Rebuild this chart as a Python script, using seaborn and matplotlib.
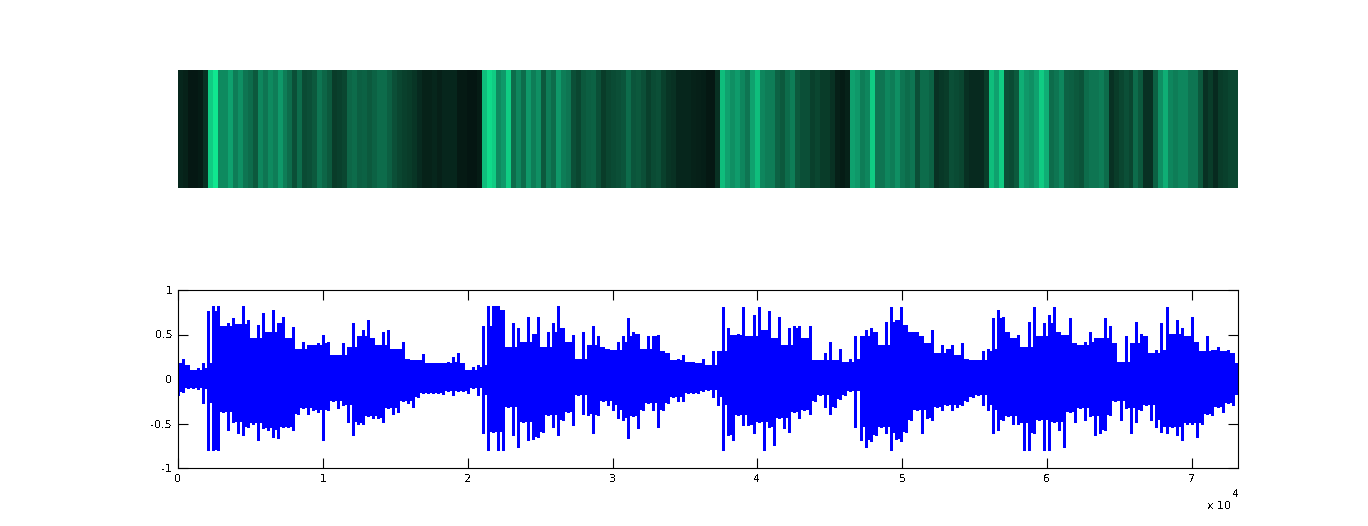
import numpy as np
import matplotlib
matplotlib.use("Agg")
import matplotlib.pyplot as plt
from matplotlib.colors import LinearSegmentedColormap
import seaborn as sns

# brightness of each column of the top strip, left to right
strip_a = [.10,.08,.03,.03,.05,.15,.9,1.0,.62,.62,.75,.55,.65,.5,.45,.35,.6,.5,.62,.55,.7,.55,.45,.3,.45,.28,.3,.35,.5,.42,.35,.2,.22,.25,.42,.45,.38,.4,.35,.4,.45,.45,.38,.3,.25,.22,.2,.17,.12,.08,.08,.1,.07,.1,.1,.1,.04,.04,.02,.02,.05,.85,.95,.9,.62,.7,.9,.45,.6,.45,.7]
strip_b = [.55,.65,.35,.55,.45,.7,.55,.5,.3,.25,.35,.38,.4,.3,.2,.25,.28,.3,.33,.45,.33,.35,.3,.22,.28,.3,.22,.17,.15,.1,.1,.1,.08,.07,.06,.03,.03,.15,.85,.75,.65,.72,.6,.5,.75,.85,.6,.55,.55,.4,.35,.45,.55,.35,.3,.3,.22,.25,.2,.2,.15,.07,.05,.08,.75,.7,.55,.6,.9,.5]
strip_c = [.5,.6,.55,.65,.5,.45,.5,.3,.45,.45,.4,.15,.18,.2,.3,.28,.25,.15,.12,.12,.12,.2,.85,.75,.9,.3,.28,.35,.8,.7,.65,.75,.9,.8,.45,.5,.6,.4,.38,.35,.32,.45,.5,.5,.55,.45,.15,.2,.25,.3,.25,.45,.35,.15,.15,.4,.65,.8,.6,.55,.6,.6,.5,.5,.35,.15,.2,.12,.2,.22,.25,.25]

top_1 = [.18,.23,.16,.10,.12,.18,.76,.82,.82,.59,.63,.68,.62,.82,.66,.46,.61,.74,.53,.78,.63,.70,.46,.58,.34,.42,.38,.38,.40,.49,.42,.27,.27,.40,.36,.63,.48,.55,.66,.46,.38,.53,.55,.34,.34,.42,.23,.21,.21,.28,.18,.18,.18,.18]
bot_1 = [-.18,-.15,-.10,-.10,-.11,-.27,-.80,-.80,-.80,-.37,-.57,-.48,-.61,-.63,-.54,-.50,-.69,-.55,-.57,-.65,-.66,-.54,-.54,-.57,-.39,-.33,-.39,-.35,-.37,-.69,-.35,-.25,-.33,-.29,-.48,-.63,-.50,-.50,-.42,-.44,-.44,-.48,-.33,-.39,-.37,-.25,-.27,-.31,-.20,-.16,-.16,-.16,-.16,-.17]
top_2 = [.19,.25,.29,.18,.10,.14,.16,.59,.82,.82,.82,.78,.36,.63,.57,.42,.70,.51,.70,.36,.53,.63,.82,.57,.42,.49,.23,.53,.38,.59,.48,.36,.34,.33,.42,.48,.68,.53,.51,.34,.48,.48,.49,.31,.29,.21,.23,.27,.19,.19,.18,.23,.16,.31]
bot_2 = [-.14,-.18,-.14,-.13,-.16,-.10,-.18,-.61,-.80,-.59,-.80,-.80,-.31,-.63,-.76,-.48,-.69,-.67,-.65,-.59,-.40,-.54,-.63,-.46,-.37,-.52,-.18,-.39,-.40,-.61,-.40,-.25,-.29,-.35,-.44,-.46,-.66,-.42,-.55,-.35,-.27,-.35,-.54,-.35,-.27,-.20,-.25,-.25,-.16,-.16,-.16,-.14,-.12,-.20]
top_3 = [.31,.81,.57,.49,.51,.81,.48,.72,.81,.55,.76,.46,.70,.38,.57,.59,.59,.46,.59,.21,.21,.29,.42,.21,.34,.19,.23,.48,.48,.55,.57,.53,.38,.64,.81,.66,.81,.61,.53,.53,.48,.40,.55,.29,.38,.34,.38,.27,.40,.23,.21,.21,.31]
bot_3 = [-.29,-.80,-.63,-.69,-.40,-.52,-.52,-.61,-.48,-.80,-.54,-.74,-.44,-.55,-.59,-.37,-.44,-.35,-.39,-.25,-.18,-.31,-.39,-.31,-.22,-.18,-.14,-.54,-.69,-.76,-.70,-.63,-.54,-.61,-.80,-.67,-.70,-.59,-.46,-.35,-.61,-.44,-.46,-.31,-.35,-.29,-.35,-.31,-.29,-.25,-.20,-.18,-.29]
top_4 = [.34,.68,.78,.70,.53,.46,.49,.36,.64,.81,.48,.63,.72,.81,.53,.49,.68,.40,.38,.42,.53,.46,.46,.68,.59,.40,.19,.48,.40,.64,.51,.48,.29,.33,.63,.81,.51,.66,.57,.48,.70,.42,.31,.48,.33,.36,.31,.33,.29]
bot_4 = [-.35,-.61,-.57,-.46,-.42,-.50,-.50,-.80,-.80,-.61,-.46,-.80,-.80,-.48,-.57,-.76,-.37,-.48,-.33,-.46,-.42,-.63,-.61,-.57,-.40,-.25,-.46,-.33,-.61,-.48,-.35,-.29,-.46,-.54,-.59,-.61,-.54,-.63,-.69,-.50,-.50,-.65,-.50,-.39,-.40,-.31,-.37,-.27,-.29]

stretch_edges = [0, 18630, 37270, 55900, 73170]
x_ticks = [0, 10000, 20000, 30000, 40000, 50000, 60000, 70000]
x_labels = ["0", "1", "2", "3", "4", "5", "6", "7"]
y_ticks = [-1, -0.5, 0, 0.5, 1]
y_labels = ["-1", "-0.5", "0", "0.5", "1"]

sns.set_theme(style="white")
plt.rcParams["font.family"] = "DejaVu Sans"
plt.rcParams["text.antialiased"] = False

W, H = 1368, 526
fig = plt.figure(figsize=(W / 100, H / 100), dpi=100, facecolor="white")

# top strip
ax1 = fig.add_axes([178 / W, 1 - 188 / H, 1060 / W, 118 / H])
greens = LinearSegmentedColormap.from_list(
    "greens", ["#04120f", "#0a4630", "#0e7552", "#0fa06e", "#10e890"])
strip = np.array([strip_a + strip_b + strip_c])
sns.heatmap(strip, ax=ax1, cmap=greens, vmin=0, vmax=1, cbar=False,
            xticklabels=False, yticklabels=False, rasterized=True)

# waveform
ax2 = fig.add_axes([178 / W, 1 - 468 / H, 1060 / W, 178 / H])
tops = [top_1, top_2, top_3, top_4]
bots = [bot_1, bot_2, bot_3, bot_4]
x = np.concatenate([np.linspace(stretch_edges[i], stretch_edges[i + 1], len(tops[i]), endpoint=False)
                    for i in range(4)])
top = np.concatenate(tops)
bot = np.concatenate(bots)

# solid body under the spikes, as high as the lowest of three neighbours
body_top = np.minimum.reduce([top, np.roll(top, 1), np.roll(top, -1)])
body_bot = np.maximum.reduce([bot, np.roll(bot, 1), np.roll(bot, -1)])
ax2.fill_between(np.append(x, stretch_edges[-1]), np.append(body_bot, body_bot[-1]),
                 np.append(body_top, body_top[-1]), step="post", color="#0000ff", lw=0, antialiased=False)

# one upright stroke per peak
sx = np.concatenate([x, x])
sy = np.concatenate([top, bot])
stroke = np.concatenate([np.arange(len(x)), np.arange(len(x))])
sns.lineplot(x=sx, y=sy, units=stroke, estimator=None, ax=ax2, color="#0000ff",
             linewidth=1.0, antialiased=False, sort=False, solid_capstyle="butt")

ax2.set_xlim(0, 73170)
ax2.set_ylim(-1, 1)
ax2.set_xticks(x_ticks)
ax2.set_xticklabels(x_labels)
ax2.set_yticks(y_ticks)
ax2.set_yticklabels(y_labels)
ax2.tick_params(direction="in", length=7.5, width=0.8, top=True, right=True, bottom=True,
                left=True, labelsize=8, colors="black", pad=4)
for s in ax2.spines.values():
    s.set_visible(True)
    s.set_color("black")
    s.set_linewidth(0.8)

fig.text(1207 / W, 1 - 506 / H, "x 10", fontsize=8, color="black", va="center", ha="left")
fig.text(1232 / W, 1 - 494 / H, "4", fontsize=8, color="black", va="center", ha="left")

fig.savefig("out.png", dpi=100)
